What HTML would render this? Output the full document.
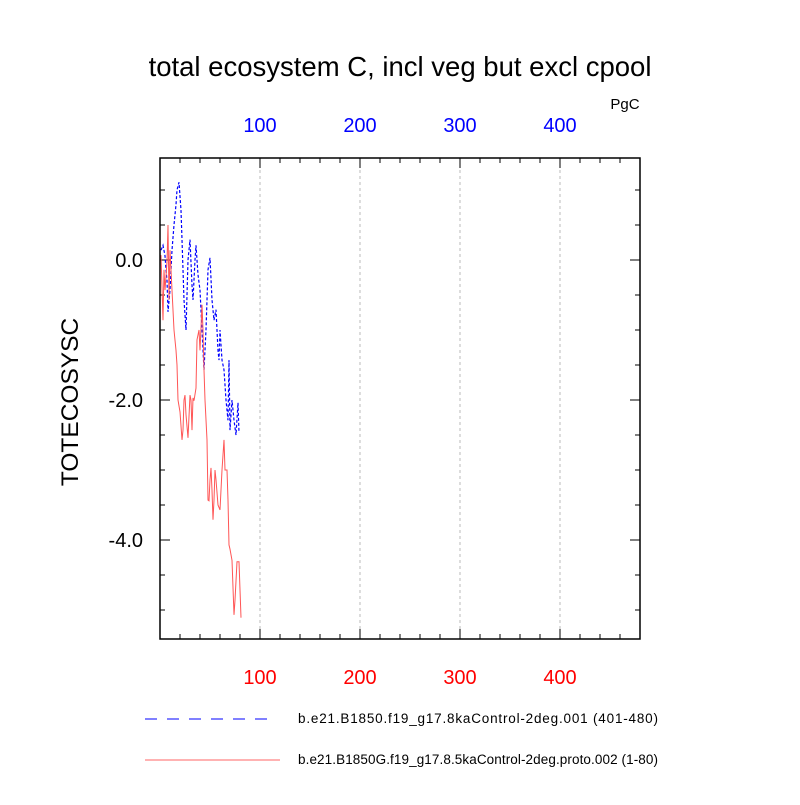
<!DOCTYPE html>
<html><head><meta charset="utf-8"><style>
body{margin:0;background:#fff;font-family:"Liberation Sans",sans-serif}
</style></head><body>
<svg id="chart" width="800" height="800" xmlns="http://www.w3.org/2000/svg">
<text x="400" y="76" text-anchor="middle" font-size="27.5">total ecosystem C, incl veg but excl cpool</text>
<text x="625" y="109" text-anchor="middle" font-size="15">PgC</text>
<text x="78" y="402" text-anchor="middle" font-size="24.5" transform="rotate(-90 78 402)">TOTECOSYSC</text>
<g id="grid"></g><g id="axes"></g><g id="series"></g>
<rect x="160" y="158" width="480" height="481" fill="none" stroke="#000" stroke-width="1.5"/>
<line x1="145" y1="719" x2="275" y2="719" stroke="#00f" stroke-dasharray="12,10"/>
<text x="298" y="723" font-size="13.5" textLength="360">b.e21.B1850.f19_g17.8kaControl-2deg.001 (401-480)</text>
<line x1="145" y1="760" x2="280" y2="760" stroke="#f66"/>
<text x="298" y="764" font-size="13.5" textLength="360">b.e21.B1850G.f19_g17.8.5kaControl-2deg.proto.002 (1-80)</text>
</svg>
<script>
const xTicks=[100,200,300,400];
const yTicks=[0,-2,-4];
const yTickLabels=["0.0","-2.0","-4.0"];
const redX=[1,3,4,5,7,8,9,10,11,12,14,16,17,18,20,22,23,24,25,26,28,30,31,32,33,34,36,37,39,40,42,43,44,45,47,48,49,50,51,52,53,54,55,56,58,60,62,64,65,67,68,69,70,72,74,75,77,79,81];
const redY=[0.07,-0.86,-0.14,-0.43,-0.03,0.5,-0.57,0.14,-0.14,-0.43,-1.0,-1.29,-1.5,-2.0,-2.17,-2.57,-2.43,-2.0,-1.93,-2.21,-2.54,-1.93,-2.0,-2.43,-1.97,-2.01,-1.83,-1.14,-1.0,-1.29,-0.64,-1.0,-1.57,-2.0,-2.57,-3.43,-3.44,-3.14,-2.97,-3.29,-3.71,-3.43,-3.0,-3.14,-3.5,-3.57,-3.0,-2.57,-3.0,-3.0,-3.43,-4.07,-4.13,-4.29,-5.07,-4.86,-4.31,-4.31,-5.11];
const blueX=[1,3,5,6,7,8,10,12,14,16,17,19,21,22,24,26,28,30,32,33,35,36,38,40,42,44,46,48,50,52,54,56,58,59,60,62,64,66,68,69,70,72,74,76,78,79];
const blueY=[0.14,0.21,0.06,-0.14,-0.29,-0.74,-0.43,0.14,0.5,0.79,1.0,1.11,0.71,0.29,-0.57,-1.0,0.0,0.29,-0.36,-0.57,0.0,0.21,-0.21,-0.43,-1.0,-1.57,-1.0,-0.14,0.03,-0.57,-0.86,-0.71,-1.29,-1.43,-1.0,-1.43,-1.57,-2.0,-2.29,-1.43,-2.43,-2.0,-2.29,-2.5,-2.04,-2.47];
const X=v=>160+v*1.0, Y=v=>260-v*70;
const ns="http://www.w3.org/2000/svg";
function mk(tag,attrs,parent){const e=document.createElementNS(ns,tag);for(const k in attrs)e.setAttribute(k,attrs[k]);parent.appendChild(e);return e;}
const grid=document.getElementById('grid'),axes=document.getElementById('axes'),series=document.getElementById('series');
xTicks.forEach(t=>{
 const g=mk('line',{x1:X(t),x2:X(t),y1:158,y2:639,stroke:'#aaa','stroke-dasharray':'3,3','stroke-width':0.8},grid);
 
 
 const b=mk('text',{x:X(t),y:684,'text-anchor':'middle','font-size':20,fill:'#f00'},axes);b.textContent=t;
 
 
 const tp=mk('text',{x:X(t),y:132,'text-anchor':'middle','font-size':20,fill:'#00f'},axes);tp.textContent=t;
 
 
});
for(let t=20;t<=480;t+=20){const big=t%100===0;
 mk('line',{x1:X(t),x2:X(t),y1:639,y2:639-(big?10:5),stroke:'#000'},axes);
 mk('line',{x1:X(t),x2:X(t),y1:158,y2:158+(big?10:5),stroke:'#000'},axes);}
for(let v=-5;v<=1.4;v+=0.5){const big=Math.abs(v%2)<1e-6;
 mk('line',{x1:160,x2:160+(big?10:5),y1:Y(v),y2:Y(v),stroke:'#000'},axes);
 mk('line',{x1:640,x2:640-(big?10:5),y1:Y(v),y2:Y(v),stroke:'#000'},axes);}
yTicks.forEach((t,i)=>{const e=mk('text',{x:143,y:Y(t)+7,'text-anchor':'end','font-size':20},axes);e.textContent=yTickLabels[i];
 
 });
const bp=mk('polyline',{points:blueX.map((x,i)=>X(x)+','+Y(blueY[i])).join(' '),fill:'none',stroke:'#00f','stroke-width':1.2,'stroke-dasharray':'3,2'},series);


const rp=mk('polyline',{points:redX.map((x,i)=>X(x)+','+Y(redY[i])).join(' '),fill:'none',stroke:'#f55','stroke-width':1},series);


</script>
</body></html>
